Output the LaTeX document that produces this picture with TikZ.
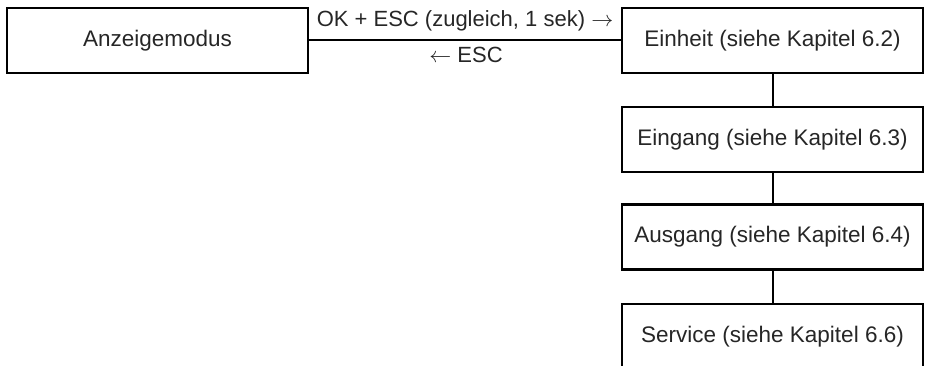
\RequirePackage{fix-cm}
\documentclass[tikz,border=0pt]{standalone}
\usepackage{fontspec}
\setmainfont{Liberation Sans}
\begin{document}
\begin{tikzpicture}[x=1pt,y=-1pt,
  menubox/.style={draw=black,line width=2.4pt,minimum width=301pt,minimum height=65pt,inner sep=0pt,
    font=\fontsize{22.5}{26}\selectfont,text=black!85},
  link/.style={draw=black,line width=2pt},
  lbl/.style={inner sep=0pt,anchor=base,font=\fontsize{22}{26}\selectfont,text=black!85}]
\useasboundingbox (0,0) rectangle (925,366);
\node[menubox] (anz) at (157.5,40.5) {Anzeigemodus};
\node[menubox] (ein) at (772.5,40.5) {Einheit (siehe Kapitel 6.2)};
\node[menubox] (eing) at (772.5,139.5) {Eingang (siehe Kapitel 6.3)};
\node[menubox] (aus) at (772.5,237) {Ausgang (siehe Kapitel 6.4)};
\node[menubox] (serv) at (772.5,336.5) {Service (siehe Kapitel 6.6)};
\draw[link] (anz.east) -- (ein.west);
\draw[link] (ein.south) -- (eing.north);
\draw[link] (eing.south) -- (aus.north);
\draw[link] (aus.south) -- (serv.north);
\node[lbl] (fwd) at (465,27) {OK + ESC (zugleich, 1 sek) $\rightarrow$};
\node[lbl] (back) at (466,63) {$\leftarrow$ ESC};
\end{tikzpicture}
\end{document}
